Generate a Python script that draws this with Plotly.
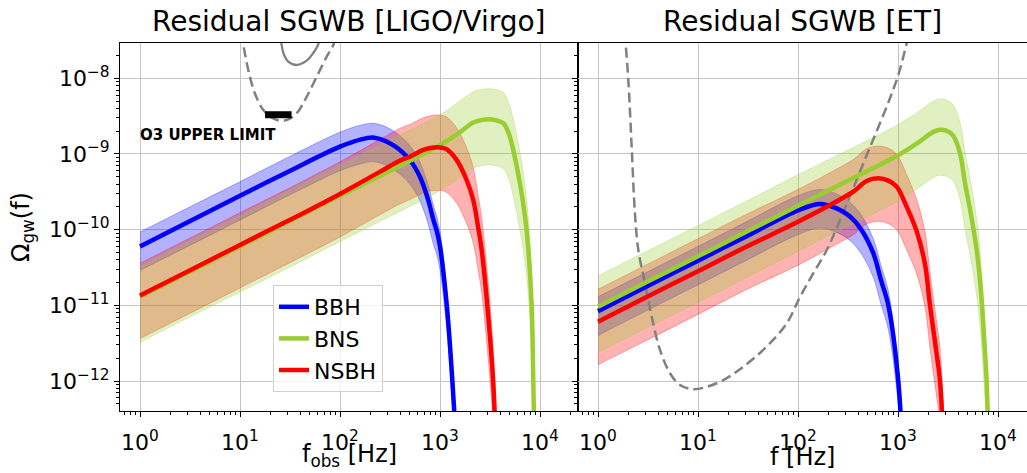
import plotly.graph_objects as go

# ---------------- LIGO/Virgo panel ----------------
f_bbh_lv = [1, 3, 10, 30, 100, 160, 220, 340, 500, 630, 760, 860, 930, 1000, 1170, 1330, 1480]
bbh_lv = [6.0e-11, 1.25e-10, 2.8e-10, 5.8e-10, 1.25e-9, 1.55e-9, 1.64e-9, 1.31e-9, 8.3e-10, 5.0e-10,
          2.5e-10, 1.34e-10, 9.5e-11, 6.0e-11, 1.0e-11, 1.0e-12, 1.0e-13]
bbh_lv_hi = [9.3e-11, 1.94e-10, 4.3e-10, 9.0e-10, 1.94e-9, 2.4e-9, 2.54e-9, 2.03e-9, 1.29e-9, 7.8e-10,
             3.9e-10, 2.08e-10, 1.47e-10, 9.3e-11, 1.55e-11, 1.55e-12, 1.55e-13]
bbh_lv_lo = [2.9e-11, 6.0e-11, 1.34e-10, 2.8e-10, 6.0e-10, 7.4e-10, 7.9e-10, 6.3e-10, 4.0e-10, 2.4e-10,
             1.2e-10, 6.4e-11, 4.6e-11, 2.9e-11, 4.8e-12, 4.8e-13, 4.8e-14]

f_nsbh_lv = [1, 3, 10, 40, 100, 250, 400, 500, 680, 800, 930, 1050, 1170, 1470, 1850, 2150, 2400, 2610,
             2970, 3400, 3650]
nsbh_lv = [1.35e-11, 2.8e-11, 6.3e-11, 1.58e-10, 2.97e-10, 5.8e-10, 8.2e-10, 9.2e-10, 1.13e-9, 1.2e-9,
           1.23e-9, 1.21e-9, 1.15e-9, 8.3e-10, 4.5e-10, 2.47e-10, 1.1e-10, 5.4e-11, 1.0e-11, 1.0e-12, 1.0e-13]
nsbh_lv_hi = [3.6e-11, 7.5e-11, 1.68e-10, 4.2e-10, 7.9e-10, 1.55e-9, 2.19e-9, 2.46e-9, 3.0e-9, 3.2e-9,
              3.28e-9, 3.23e-9, 3.07e-9, 2.2e-9, 1.2e-9, 6.6e-10, 2.9e-10, 1.44e-10, 2.7e-11, 2.7e-12, 2.7e-13]
nsbh_lv_lo = [3.65e-12, 7.6e-12, 1.7e-11, 4.3e-11, 8.0e-11, 1.57e-10, 2.2e-10, 2.5e-10, 3.05e-10, 3.25e-10,
              3.3e-10, 3.27e-10, 3.1e-10, 2.24e-10, 1.2e-10, 6.7e-11, 3.0e-11, 1.46e-11, 2.7e-12, 2.7e-13,
              2.7e-14]

f_bns_lv = [1, 3, 10, 30, 100, 300, 1000, 1585, 2150, 2600, 3040, 3600, 4300, 4850, 5400, 6300, 7080, 7650,
            8250, 8570, 8850]
bns_lv = [1.3e-11, 2.7e-11, 6.0e-11, 1.25e-10, 2.8e-10, 5.8e-10, 1.31e-9, 1.95e-9, 2.6e-9, 2.8e-9,
          2.87e-9, 2.8e-9, 2.55e-9, 1.9e-9, 1.13e-9, 4.1e-10, 1.5e-10, 5.4e-11, 1.0e-11, 1.0e-12, 1.0e-13]
bns_lv_hi = [3.3e-11, 6.9e-11, 1.53e-10, 3.2e-10, 7.1e-10, 1.48e-9, 3.3e-9, 5.0e-9, 6.6e-9, 7.1e-9,
             7.3e-9, 7.1e-9, 6.5e-9, 4.8e-9, 2.9e-9, 1.05e-9, 3.8e-10, 1.38e-10, 2.55e-11, 2.55e-12, 2.55e-13]
bns_lv_lo = [3.25e-12, 6.8e-12, 1.5e-11, 3.1e-11, 7.0e-11, 1.45e-10, 3.3e-10, 4.9e-10, 6.5e-10, 7.0e-10,
             7.2e-10, 7.0e-10, 6.4e-10, 4.75e-10, 2.8e-10, 1.0e-10, 3.8e-11, 1.35e-11, 2.5e-12, 2.5e-13,
             2.5e-14]

# O3 power-law integrated sensitivity (dashed) and the O3 upper limit
f_o3_pi = [10.3, 10.8, 12.1, 14.1, 17.1, 21, 25.1, 30, 36.9, 46.4, 58.5, 73.6, 85.7, 90]
o3_pi = [4e-8, 2.75e-8, 1.29e-8, 6.3e-9, 3.8e-9, 3.0e-9, 2.75e-9, 2.85e-9, 3.45e-9, 5.7e-9,
         1.05e-8, 1.93e-8, 2.75e-8, 3.5e-8]
f_o3_sens = [25.5, 26.1, 27.2, 30.4, 36.9, 46.4, 53.8, 60.3, 62]
o3_sens = [3.5e-8, 2.75e-8, 2.14e-8, 1.66e-8, 1.5e-8, 1.71e-8, 2.14e-8, 2.75e-8, 3.3e-8]
f_o3_limit = [17.8, 32.8]
o3_limit = [3.3e-9, 3.3e-9]

# ---------------- Einstein Telescope panel ----------------
f_bbh_et = [1, 3, 10, 30, 100, 166, 244, 331, 430, 566, 675, 800, 1007, 1110]
bbh_et = [8.4e-12, 1.75e-11, 3.9e-11, 8.1e-11, 1.8e-10, 2.19e-10, 1.91e-10, 1.49e-10, 1.0e-10, 4.9e-11,
          2.17e-11, 1.0e-11, 1.0e-12, 1.0e-13]
bbh_et_hi = [1.3e-11, 2.7e-11, 6.0e-11, 1.26e-10, 2.8e-10, 3.4e-10, 2.96e-10, 2.3e-10, 1.55e-10, 7.6e-11,
             3.4e-11, 1.55e-11, 1.55e-12, 1.55e-13]
bbh_et_lo = [4.0e-12, 8.4e-12, 1.87e-11, 3.9e-11, 8.6e-11, 1.05e-10, 9.2e-11, 7.2e-11, 4.8e-11, 2.35e-11,
             1.04e-11, 4.8e-12, 4.8e-13, 4.8e-14]

f_nsbh_et = [1, 3, 10, 30, 100, 263, 360, 485, 636, 800, 970, 1222, 1538, 1862, 2090, 2350, 2630, 2880]
nsbh_et = [6.1e-12, 1.27e-11, 2.83e-11, 5.9e-11, 1.27e-10, 2.5e-10, 3.2e-10, 4.4e-10, 4.77e-10, 4.45e-10,
           3.7e-10, 2.0e-10, 9.5e-11, 3.5e-11, 1.0e-11, 3.2e-12, 1.0e-12, 1.0e-13]
nsbh_et_hi = [1.63e-11, 3.4e-11, 7.6e-11, 1.58e-10, 3.4e-10, 6.7e-10, 8.5e-10, 1.17e-9, 1.27e-9, 1.19e-9,
              9.9e-10, 5.3e-10, 2.5e-10, 9.3e-11, 2.67e-11, 8.5e-12, 2.67e-12, 2.67e-13]
nsbh_et_lo = [1.65e-12, 3.4e-12, 7.6e-12, 1.6e-11, 3.4e-11, 6.8e-11, 8.6e-11, 1.19e-10, 1.29e-10, 1.2e-10,
              1.0e-10, 5.4e-11, 2.6e-11, 9.5e-12, 2.7e-12, 8.6e-13, 2.7e-13, 2.7e-14]

f_bns_et = [1, 3, 10, 30, 100, 300, 1000, 1600, 2100, 2530, 3000, 3560, 4170, 4670, 5455, 6166, 6850, 7300,
            7700, 8100]
bns_et = [9.6e-12, 2.0e-11, 4.45e-11, 9.3e-11, 2.07e-10, 4.3e-10, 9.6e-10, 1.42e-9, 1.85e-9, 2.07e-9,
          2.05e-9, 1.75e-9, 1.02e-9, 4.2e-10, 1.4e-10, 5.0e-11, 1.2e-11, 3.2e-12, 1.0e-12, 1.0e-13]
bns_et_hi = [2.44e-11, 5.1e-11, 1.13e-10, 2.36e-10, 5.3e-10, 1.09e-9, 2.44e-9, 3.6e-9, 4.7e-9, 5.3e-9,
             5.2e-9, 4.45e-9, 2.6e-9, 1.07e-9, 3.6e-10, 1.27e-10, 3.0e-11, 8.1e-12, 2.5e-12, 2.5e-13]
bns_et_lo = [2.4e-12, 5.0e-12, 1.1e-11, 2.3e-11, 5.2e-11, 1.08e-10, 2.4e-10, 3.55e-10, 4.6e-10, 5.2e-10,
             5.1e-10, 4.4e-10, 2.55e-10, 1.05e-10, 3.5e-11, 1.25e-11, 3.0e-12, 8.0e-13, 2.5e-13, 2.5e-14]

# ET power-law integrated sensitivity
f_et_pi = [1.85, 2.01, 2.17, 2.34, 2.53, 2.95, 3.44, 4.17, 5.25, 6.61, 8.98, 12.2, 17.9, 28.4, 48.6,
           77.1, 105, 142, 194, 263, 450, 970, 1222, 1300]
et_pi = [4e-8, 9.5e-9, 1.25e-9, 1.65e-10, 5.4e-11, 1.96e-11, 7.1e-12, 2.58e-12, 1.27e-12, 8.9e-13,
         7.8e-13, 8.4e-13, 1.03e-12, 1.55e-12, 2.85e-12, 5.8e-12, 1.3e-11, 2.65e-11, 5.4e-11, 1.34e-10,
         7.5e-10, 9.5e-9, 2.9e-8, 4e-8]

# ---------------- axis ticks ----------------
x_ticks = [1, 10, 100, 1000, 10000]
x_tick_text = ['10<sup>0</sup>', '10<sup>1</sup>', '10<sup>2</sup>', '10<sup>3</sup>', '10<sup>4</sup>']
y_ticks = [1e-12, 1e-11, 1e-10, 1e-9, 1e-8]
y_tick_text = ['10<sup>−12</sup>', '10<sup>−11</sup>', '10<sup>−10</sup>', '10<sup>−9</sup>', '10<sup>−8</sup>']
x_minor = [k * 10.0 ** d for d in range(-1, 5) for k in range(2, 10)]
y_minor = [k * 10.0 ** d for d in range(-13, -7) for k in range(2, 10)]

BLUE, GREEN, RED = '#0000ff', '#9acd32', '#ff0000'
BLUE_A, GREEN_A, RED_A = 'rgba(0,0,255,0.3)', 'rgba(154,205,50,0.3)', 'rgba(255,0,0,0.3)'
GREY = '#808080'
LINE_W = 4.5
SMOOTH = 1.0

fig = go.Figure()


def add_band(f, lo, hi, color, xa, ya):
    fig.add_trace(go.Scatter(x=f, y=lo, mode='lines',
                             line=dict(color=color, width=1, shape='spline', smoothing=SMOOTH),
                             showlegend=False, hoverinfo='skip', xaxis=xa, yaxis=ya))
    fig.add_trace(go.Scatter(x=f, y=hi, mode='lines',
                             line=dict(color=color, width=1, shape='spline', smoothing=SMOOTH),
                             fill='tonexty', fillcolor=color, showlegend=False, hoverinfo='skip',
                             xaxis=xa, yaxis=ya))


def add_line(f, y, color, name, xa, ya, show, rank):
    fig.add_trace(go.Scatter(x=f, y=y, mode='lines', name=name,
                             line=dict(color=color, width=LINE_W, shape='spline', smoothing=SMOOTH),
                             showlegend=show, legendgroup=name, legendrank=rank, xaxis=xa, yaxis=ya))


# left panel
add_band(f_bbh_lv, bbh_lv_lo, bbh_lv_hi, BLUE_A, 'x', 'y')
add_band(f_nsbh_lv, nsbh_lv_lo, nsbh_lv_hi, RED_A, 'x', 'y')
add_band(f_bns_lv, bns_lv_lo, bns_lv_hi, GREEN_A, 'x', 'y')
fig.add_trace(go.Scatter(x=f_o3_pi, y=o3_pi, mode='lines', showlegend=False,
                         line=dict(color=GREY, width=2.5, dash='10px,5px', shape='spline'), xaxis='x', yaxis='y'))
fig.add_trace(go.Scatter(x=f_o3_sens, y=o3_sens, mode='lines', showlegend=False,
                         line=dict(color=GREY, width=2.2, shape='spline'), xaxis='x', yaxis='y'))
fig.add_trace(go.Scatter(x=f_o3_limit, y=o3_limit, mode='lines', showlegend=False,
                         line=dict(color='black', width=7), xaxis='x', yaxis='y'))
add_line(f_bbh_lv, bbh_lv, BLUE, 'BBH', 'x', 'y', True, 1)
add_line(f_bns_lv, bns_lv, GREEN, 'BNS', 'x', 'y', True, 2)
add_line(f_nsbh_lv, nsbh_lv, RED, 'NSBH', 'x', 'y', True, 3)

# right panel
add_band(f_bbh_et, bbh_et_lo, bbh_et_hi, BLUE_A, 'x2', 'y2')
add_band(f_nsbh_et, nsbh_et_lo, nsbh_et_hi, RED_A, 'x2', 'y2')
add_band(f_bns_et, bns_et_lo, bns_et_hi, GREEN_A, 'x2', 'y2')
fig.add_trace(go.Scatter(x=f_et_pi, y=et_pi, mode='lines', showlegend=False,
                         line=dict(color=GREY, width=2.5, dash='10px,5px', shape='spline'), xaxis='x2', yaxis='y2'))
add_line(f_bbh_et, bbh_et, BLUE, 'BBH', 'x2', 'y2', False, 1)
add_line(f_bns_et, bns_et, GREEN, 'BNS', 'x2', 'y2', False, 2)
add_line(f_nsbh_et, nsbh_et, RED, 'NSBH', 'x2', 'y2', False, 3)

FONT = 'DejaVu Sans'
common_x = dict(type='log', showgrid=True, gridcolor='#c4c4c4', gridwidth=1.2,
                tickmode='array', tickvals=x_ticks, ticktext=x_tick_text,
                ticks='outside', ticklen=5, tickcolor='black', tickwidth=1, ticklabelstandoff=7,
                tickfont=dict(size=22, family=FONT, color='black'),
                minor=dict(tickmode='array', tickvals=x_minor, ticks='outside', ticklen=3,
                           tickcolor='black', showgrid=False),
                showline=True, linecolor='black', linewidth=1, mirror=True, zeroline=False,
                automargin=False)
common_y = dict(type='log', range=[-12.395, -7.534], showgrid=True, gridcolor='#c4c4c4', gridwidth=1.2,
                tickmode='array', tickvals=y_ticks, ticktext=y_tick_text,
                ticks='outside', ticklen=5, tickcolor='black', tickwidth=1,
                tickfont=dict(size=22, family=FONT, color='black'),
                minor=dict(tickmode='array', tickvals=y_minor, ticks='outside', ticklen=3,
                           tickcolor='black', showgrid=False),
                showline=True, linecolor='black', linewidth=1, mirror=True, zeroline=False,
                automargin=False)

split = (578 - 120) / 907
x_title_y = (411 - 473) / 368
fig.update_layout(
    width=1027, height=473,
    margin=dict(l=120, r=0, t=43, b=62),
    paper_bgcolor='white', plot_bgcolor='white',
    font=dict(family=FONT, color='black'),
    xaxis=dict(common_x, domain=[0, split], range=[-0.2, 4.38], anchor='y'),
    yaxis=dict(common_y, domain=[0, 1], anchor='x',
               title=dict(text='Ω<sub>gw</sub>(f)', font=dict(size=24, family=FONT), standoff=12)),
    xaxis2=dict(common_x, domain=[split, 1], range=[-0.2, 4.29], anchor='y2'),
    yaxis2=dict(common_y, domain=[0, 1], anchor='x2', showticklabels=False),
    legend=dict(x=(273 - 120) / 907, y=(411 - 285) / 368, xanchor='left', yanchor='top',
                bgcolor='rgba(255,255,255,0.8)', bordercolor='#d0d0d0', borderwidth=1,
                font=dict(size=22, family=FONT), tracegroupgap=0,
                entrywidth=105, entrywidthmode='pixels'),
    annotations=[
        dict(text='Residual SGWB [LIGO/Virgo]', xref='paper', yref='paper', x=split / 2, y=(411 - 22) / 368,
             xanchor='center', yanchor='middle', showarrow=False, font=dict(size=28, family=FONT)),
        dict(text='Residual SGWB [ET]', xref='paper', yref='paper', x=(split + 1) / 2, y=(411 - 22) / 368,
             xanchor='center', yanchor='middle', showarrow=False, font=dict(size=28, family=FONT)),
        dict(text='f<sub>obs</sub> [Hz]', xref='paper', yref='paper', x=split / 2, y=x_title_y,
             xanchor='center', yanchor='bottom', showarrow=False, font=dict(size=24, family=FONT)),
        dict(text='f [Hz]', xref='paper', yref='paper', x=(split + 1) / 2, y=x_title_y,
             xanchor='center', yanchor='bottom', showarrow=False, font=dict(size=24, family=FONT)),
        dict(text='<b>O3 UPPER LIMIT</b>', xref='x', yref='y', x=0.675, y=-8.75,
             xanchor='center', yanchor='middle', showarrow=False, font=dict(size=15, family=FONT)),
    ],
)

fig.write_html('out.html')
